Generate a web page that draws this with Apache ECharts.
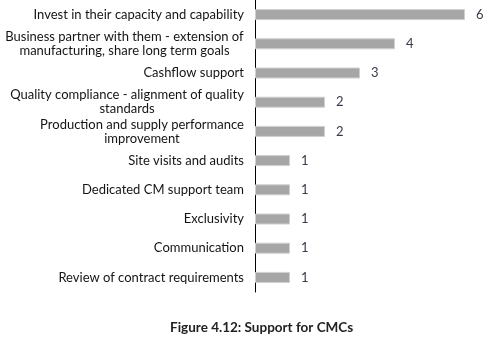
<!DOCTYPE html>
<html>
<head>
<meta charset="utf-8">
<script src="https://cdn.jsdelivr.net/npm/echarts@6/dist/echarts.min.js"></script>
<style>
html, body { margin: 0; padding: 0; background: #fff; }
#chart { width: 496px; height: 337px; }
</style>
</head>
<body>
<div id="chart"></div>
<script>
var categories = [
    'Invest in their capacity and capability',
    'Business partner with them - extension of\nmanufacturing, share long term goals',
    'Cashflow support',
    'Quality compliance - alignment of quality\nstandards',
    'Production and supply performance\nimprovement',
    'Site visits and audits',
    'Dedicated CM support team',
    'Exclusivity',
    'Communication',
    'Review of contract requirements'
];
var values = [6, 4, 3, 2, 2, 1, 1, 1, 1, 1];
var titleText = 'Figure 4.12: Support for CMCs';

var labelFont = '13px Lato';
var ctx = document.createElement('canvas').getContext('2d');
ctx.font = labelFont;
function textWidth(s) { return Math.ceil(ctx.measureText(s).width); }

// multi-line labels: lines centred on each other, block right-aligned
function fmt(value) {
    var lines = value.split('\n');
    if (lines.length === 1) return value;
    var w = Math.max.apply(null, lines.map(textWidth));
    return lines.map(function (l) { return '{c' + w + '|' + l + '}'; }).join('\n');
}

var rich = {};
categories.forEach(function (c) {
    var lines = c.split('\n');
    if (lines.length > 1) {
        var w = Math.max.apply(null, lines.map(textWidth));
        rich['c' + w] = { width: w, align: 'center', fontFamily: 'Lato', fontSize: 13, color: '#141414', lineHeight: 14 };
    }
});

var dom = document.getElementById('chart');
var myChart = echarts.init(dom);
var option = {
    animation: false,
    title: {
        text: titleText,
        left: 165,
        top: 316,
        textStyle: { fontFamily: 'Lato', fontSize: 13.5, fontWeight: 'bold', color: '#222' }
    },
    grid: { left: 255, right: 31, top: -3, height: 295 },
    xAxis: {
        type: 'value',
        min: 0,
        max: 6,
        show: false
    },
    yAxis: {
        type: 'category',
        inverse: true,
        data: categories,
        axisLine: { show: true, lineStyle: { color: '#000', width: 1 } },
        axisTick: { show: false },
        axisLabel: {
            margin: 11,
            fontFamily: 'Lato',
            fontSize: 13,
            color: '#141414',
            lineHeight: 14,
            formatter: fmt,
            rich: rich
        }
    },
    series: [{
        type: 'bar',
        data: values,
        barWidth: 11,
        itemStyle: { color: '#a6a6a6', borderColor: '#d0d0d0', borderWidth: 1 },
        label: {
            show: true,
            position: 'right',
            distance: 11,
            fontFamily: 'Lato',
            fontSize: 13,
            color: '#3a3a4a'
        }
    }]
};
myChart.setOption(option, true);
</script>
</body>
</html>
